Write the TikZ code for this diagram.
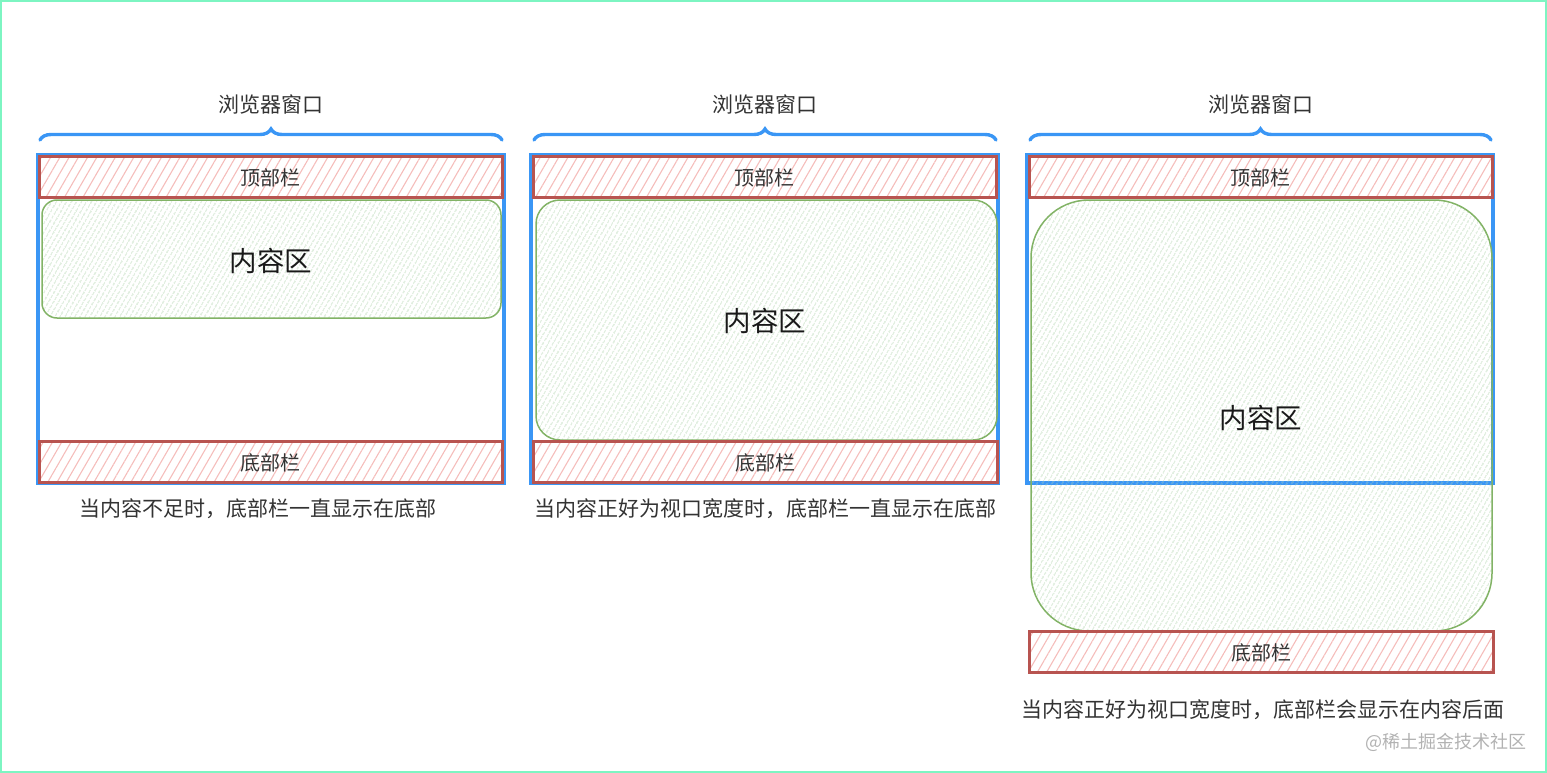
\documentclass[tikz,border=0pt]{standalone}
\usepackage{fontspec}
\setmainfont{Noto Sans CJK SC}
\usetikzlibrary{patterns.meta,decorations.pathreplacing}
\definecolor{winblue}{HTML}{3A96F5}
\definecolor{barred}{HTML}{B85450}
\definecolor{barhatch}{HTML}{F5BDBB}
\definecolor{grnstroke}{HTML}{82B366}
\definecolor{grnhatch}{HTML}{AED3AA}
\definecolor{txt}{HTML}{333333}
\definecolor{frame}{HTML}{7DF5C2}
\tikzset{
  winbox/.style={draw=winblue,line width=3.6pt,inner sep=0pt},
  barbox/.style={draw=barred,line width=3pt,inner sep=0pt,minimum width=463pt,minimum height=41pt,
    pattern={Lines[angle=60,distance=8pt,line width=1.1pt]},pattern color=barhatch,
    font=\fontsize{20}{23}\selectfont,text=txt,text depth=0pt,text height=18pt},
  contentbox/.style={draw=grnstroke,line width=1.5pt,inner sep=0pt,
    pattern={Lines[angle=60,distance=4pt,line width=0.8pt]},pattern color=grnhatch},
  bigtext/.style={font=\fontsize{27.5}{32}\selectfont,text=black!90},
  captext/.style={font=\fontsize{21}{25}\selectfont,text=txt},
  bracestyle/.style={draw=winblue,line width=3.4pt,line cap=round,decorate,
    decoration={brace,amplitude=11pt}},
}
\begin{document}
\begin{tikzpicture}[x=1pt,y=-1pt]
\useasboundingbox (0,0) rectangle (1547,773);
\draw[frame,line width=2.5pt] (1,1) rectangle (1546,772);

% ---------- panel 1
\node[winbox,minimum width=466pt,minimum height=328pt] (w1) at (271,319) {};
\node[contentbox,rounded corners=15pt,minimum width=459pt,minimum height=118pt] (c1) at (271.5,259) {};
\node[bigtext] (c1t) at (271,261) {内容区};
\node[barbox] (t1) at (270.5,176.5) {顶部栏};
\node[barbox] (b1) at (270.5,461.5) {底部栏};
\node[captext] (cap1) at (258,509) {当内容不足时，底部栏一直显示在底部};
\coordinate (bl1) at (40,140);
\coordinate (br1) at (502,140);
\draw[bracestyle] (bl1) -- (br1);
\node[captext] (lab1) at (271,104) {浏览器窗口};

% ---------- panel 2
\node[winbox,minimum width=467pt,minimum height=328pt] (w2) at (764.5,319) {};
\node[contentbox,rounded corners=24pt,minimum width=461pt,minimum height=240pt] (c2) at (766.5,320) {};
\node[bigtext] (c2t) at (765,321) {内容区};
\node[barbox] (t2) at (764.5,176.5) {顶部栏};
\node[barbox,minimum width=464pt] (b2) at (765,461.5) {底部栏};
\node[captext] (cap2) at (765,509) {当内容正好为视口宽度时，底部栏一直显示在底部};
\coordinate (bl2) at (534,140);
\coordinate (br2) at (996,140);
\draw[bracestyle] (bl2) -- (br2);
\node[captext] (lab2) at (765,104) {浏览器窗口};

% ---------- panel 3
\node[winbox,minimum width=466pt,minimum height=328pt] (w3) at (1260,319) {};
\node[contentbox,rounded corners=58pt,minimum width=461pt,minimum height=431pt] (c3) at (1261.5,415.5) {};
\node[bigtext] (c3t) at (1261,418) {内容区};
\node[barbox] (t3) at (1260.5,176.5) {顶部栏};
\node[barbox,minimum width=464pt] (b3) at (1261,651.5) {底部栏};
\node[captext] (cap3) at (1263,710) {当内容正好为视口宽度时，底部栏会显示在内容后面};
\coordinate (bl3) at (1030,140);
\coordinate (br3) at (1491,140);
\draw[bracestyle] (bl3) -- (br3);
\node[captext] (lab3) at (1261,104) {浏览器窗口};

% watermark
\node[font=\fontsize{18}{22}\selectfont,text=black!30] (wm) at (1446,742) {@稀土掘金技术社区};
\end{tikzpicture}
\end{document}
